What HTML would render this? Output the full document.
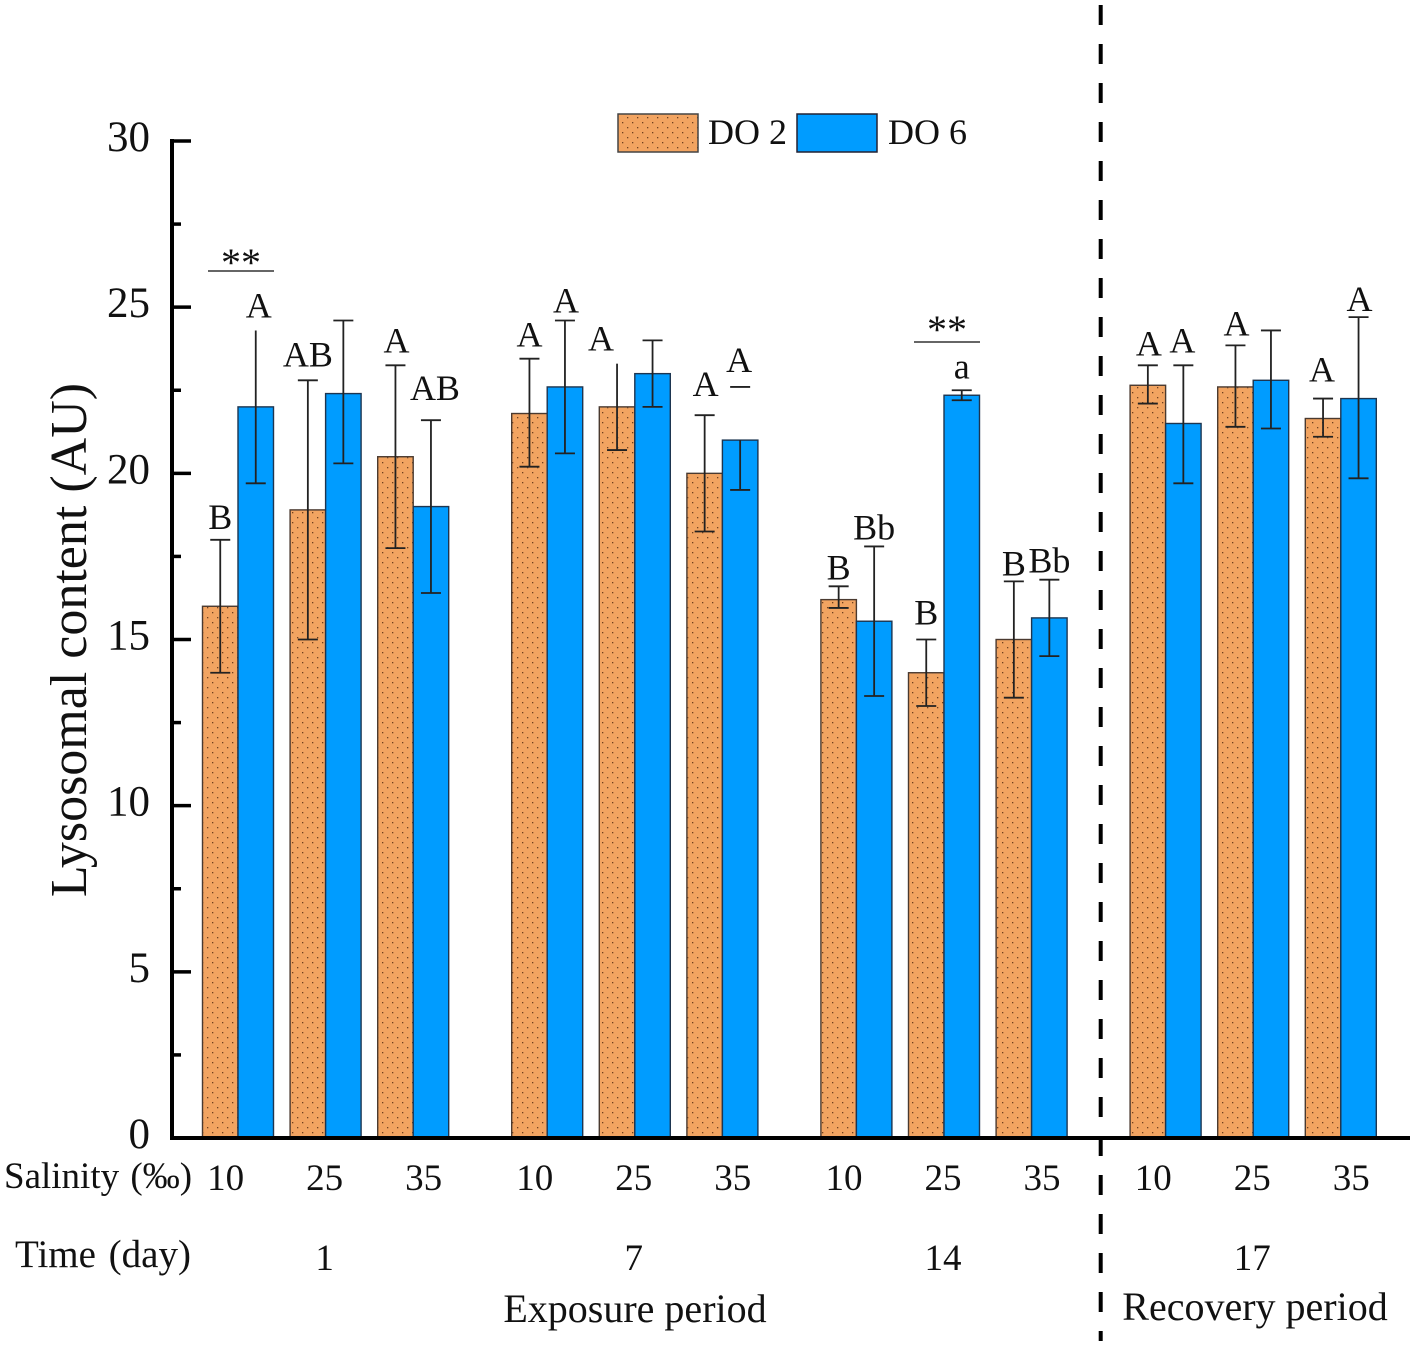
<!DOCTYPE html>
<html lang="en">
<head>
<meta charset="utf-8">
<title>Lysosomal content by salinity, dissolved oxygen and time</title>
<style>
html,body{margin:0;padding:0;background:#fff;width:1417px;height:1347px;overflow:hidden}
svg{display:block;font-family:"Liberation Serif","Times New Roman",serif;fill:#111}
</style>
</head>
<body>
<svg id="chart" xmlns="http://www.w3.org/2000/svg" width="1417" height="1347" viewBox="0 0 1417 1347">
<defs>
<pattern id="dots" patternUnits="userSpaceOnUse" width="10" height="10">
<rect width="10" height="10" fill="#F2A461"></rect>
<rect x="2" y="2" width="1.3" height="1.3" fill="#70401f"></rect>
<rect x="7" y="7" width="1.3" height="1.3" fill="#70401f"></rect>
</pattern>
</defs>
<rect width="1417" height="1347" fill="#fff"></rect>
<g id="bars"></g>
<g id="errors"></g>
<g id="axes"></g>
<g id="notes"></g>
<g>
<rect x="618" y="114" width="80" height="38" fill="url(#dots)" stroke="#444" stroke-width="1.5"></rect>
<text x="708" y="144" font-size="36">DO 2</text>
<rect x="797" y="114" width="80" height="38" fill="#009CFF" stroke="#223" stroke-width="1.5"></rect>
<text x="888" y="144" font-size="36">DO 6</text>
</g>
<text transform="translate(86,640) rotate(-90)" text-anchor="middle" font-size="52">Lysosomal content (AU)</text>
<text x="4" y="1188" font-size="37" word-spacing="2">Salinity (‰)</text>
<text x="15" y="1267" font-size="39" word-spacing="3">Time (day)</text>
<text x="635" y="1322" font-size="40" text-anchor="middle">Exposure period</text>
<text x="1255" y="1320" font-size="40" text-anchor="middle">Recovery period</text>
<line x1="1100.7" y1="5" x2="1100.7" y2="1341" stroke="#000" stroke-width="4" stroke-dasharray="20 19"></line>
</svg>
<script>
const salinityLabels = ['10','25','35','10','25','35','10','25','35','10','25','35'];
const timeLabels = ['1','7','14','17'];
const yMajorTicks = [0,5,10,15,20,25,30];
const yMinorTicks = [2.5,7.5,12.5,17.5,22.5,27.5];
const do2Values = [16,18.9,20.5,21.8,22,20,16.2,14,15,22.65,22.6,21.65];
const do2ErrUp = [18,22.8,23.25,23.45,23.3,21.75,16.6,15,16.75,23.25,23.85,22.25];
const do2ErrLow = [14,15,17.75,20.2,20.7,18.25,15.95,13,13.25,22.1,21.4,21.1];
const do6Values = [22,22.4,19,22.6,23,21,15.55,22.35,15.65,21.5,22.8,22.25];
const do6ErrUp = [24.3,24.6,21.6,24.6,24,22.6,17.8,22.5,16.8,23.25,24.3,24.7];
const do6ErrLow = [19.7,20.3,16.4,20.6,22,19.5,13.3,22.2,14.5,19.7,21.35,19.85];

const NS = 'http://www.w3.org/2000/svg';
const barW = 35.5;
const yScale = v => 1138 - v * 33.233;
const xScale = i => 238 + 87.6 * i + 46.4 * Math.floor(i / 3);
const xBar = (i, s) => xScale(i) + (s === 0 ? -barW / 2 : barW / 2);
const gBars = document.getElementById('bars');
const gErrors = document.getElementById('errors');
const gAxes = document.getElementById('axes');
const gNotes = document.getElementById('notes');

function shape(tag, attrs, parent) {
  const el = document.createElementNS(NS, tag);
  for (const k in attrs) el.setAttribute(k, attrs[k]);
  parent.appendChild(el);
  return el;
}

function drawErrorBar(i, s, up, low, barTop, opts) {
  const cx = xBar(i, s);
  const top = opts.detached ? barTop : yScale(up);
  const stem = shape('line', {x1: cx, x2: cx, y1: top, y2: yScale(low), stroke: '#222', 'stroke-width': 1.8}, gErrors);
  
  
  if (!opts.noTopCap) {
    const capTop = shape('line', {x1: cx - 10, x2: cx + 10, y1: yScale(up), y2: yScale(up), stroke: '#222', 'stroke-width': 1.8}, gErrors);
    
    
  }
  const capLow = shape('line', {x1: cx - 10, x2: cx + 10, y1: yScale(low), y2: yScale(low), stroke: '#222', 'stroke-width': 1.8}, gErrors);
  
  
}

do2Values.forEach((v, i) => {
  const bar = shape('rect', {x: xBar(i, 0) - barW / 2, y: yScale(v), width: barW, height: yScale(0) - yScale(v), fill: 'url(#dots)', stroke: '#4a3a30', 'stroke-width': 1.4}, gBars);
  
  
  drawErrorBar(i, 0, do2ErrUp[i], do2ErrLow[i], yScale(v), {noTopCap: i === 4});
});
do6Values.forEach((v, i) => {
  const bar = shape('rect', {x: xBar(i, 1) - barW / 2, y: yScale(v), width: barW, height: yScale(0) - yScale(v), fill: '#009CFF', stroke: '#1d3550', 'stroke-width': 1.4}, gBars);
  
  
  drawErrorBar(i, 1, do6ErrUp[i], do6ErrLow[i], yScale(v), {noTopCap: i === 0, detached: i === 5});
});

/* axes */
const yAxisLine = shape('line', {x1: 172, x2: 172, y1: yScale(30) - 2, y2: yScale(0) + 2, stroke: '#000', 'stroke-width': 4}, gAxes);


const xAxisLine = shape('line', {x1: 170, x2: 1410, y1: yScale(0), y2: yScale(0), stroke: '#000', 'stroke-width': 4}, gAxes);


yMajorTicks.forEach(t => {
  const tick = shape('line', {x1: 172, x2: 191, y1: yScale(t), y2: yScale(t), stroke: '#000', 'stroke-width': 3.5}, gAxes);
  
  
  const label = shape('text', {x: 150, y: yScale(t) + 10, 'text-anchor': 'end', 'font-size': 43}, gAxes);
  
  
  label.textContent = t;
});
yMinorTicks.forEach(t => {
  const tick = shape('line', {x1: 172, x2: 181, y1: yScale(t), y2: yScale(t), stroke: '#000', 'stroke-width': 3.5}, gAxes);
  
  
});
salinityLabels.forEach((t, i) => {
  const group = Math.floor(i / 3);
  const center = xScale(group * 3 + 1);
  const label = shape('text', {x: center + (i % 3 - 1) * 99 - 1, y: 1190, 'text-anchor': 'middle', 'font-size': 37}, gAxes);
  
  
  label.textContent = t;
});
timeLabels.forEach((t, g) => {
  const label = shape('text', {x: xScale(g * 3 + 1) - 1, y: 1270, 'text-anchor': 'middle', 'font-size': 37}, gAxes);
  
  
  label.textContent = t;
});

/* significance letters, placed relative to the top of their error bar */
function letter(i, s, txt, dx, dy) {
  const up = s === 0 ? do2ErrUp[i] : do6ErrUp[i];
  const el = shape('text', {x: xBar(i, s) + dx, y: yScale(up) - dy, 'text-anchor': 'middle', 'font-size': 36}, gNotes);
  
  
  el.textContent = txt;
}
letter(0, 0, 'B', 0, 11);
letter(0, 1, 'A', 3, 13);
letter(1, 0, 'AB', 0, 14);
letter(2, 0, 'A', 1, 13);
letter(2, 1, 'AB', 4, 20);
letter(3, 0, 'A', 0, 12);
letter(3, 1, 'A', 1, 8);
letter(4, 0, 'A', -16, 13);
letter(5, 0, 'A', 1, 19);
letter(5, 1, 'A', -1, 15);
letter(6, 0, 'B', 0, 7);
letter(6, 1, 'Bb', 0, 7);
letter(7, 0, 'B', 0, 15);
letter(7, 1, 'a', 0, 12);
letter(8, 0, 'B', 0, 6);
letter(8, 1, 'Bb', 0, 7);
letter(9, 0, 'A', 1, 10);
letter(9, 1, 'A', -1, 13);
letter(10, 0, 'A', 1, 10);
letter(11, 0, 'A', -1, 17);
letter(11, 1, 'A', 1, 6);

function sigMark(i, lineY, starBaseline) {
  const cx = xScale(i) + 3;
  const rule = shape('line', {x1: cx - 33, x2: cx + 33, y1: lineY, y2: lineY, stroke: '#333', 'stroke-width': 1.6}, gNotes);
  
  
  const stars = shape('text', {x: cx, y: starBaseline, 'text-anchor': 'middle', 'font-size': 40}, gNotes);
  
  
  stars.textContent = '**';
}
sigMark(0, 271, 276);
sigMark(7, 342, 343);
</script>
</body>
</html>
